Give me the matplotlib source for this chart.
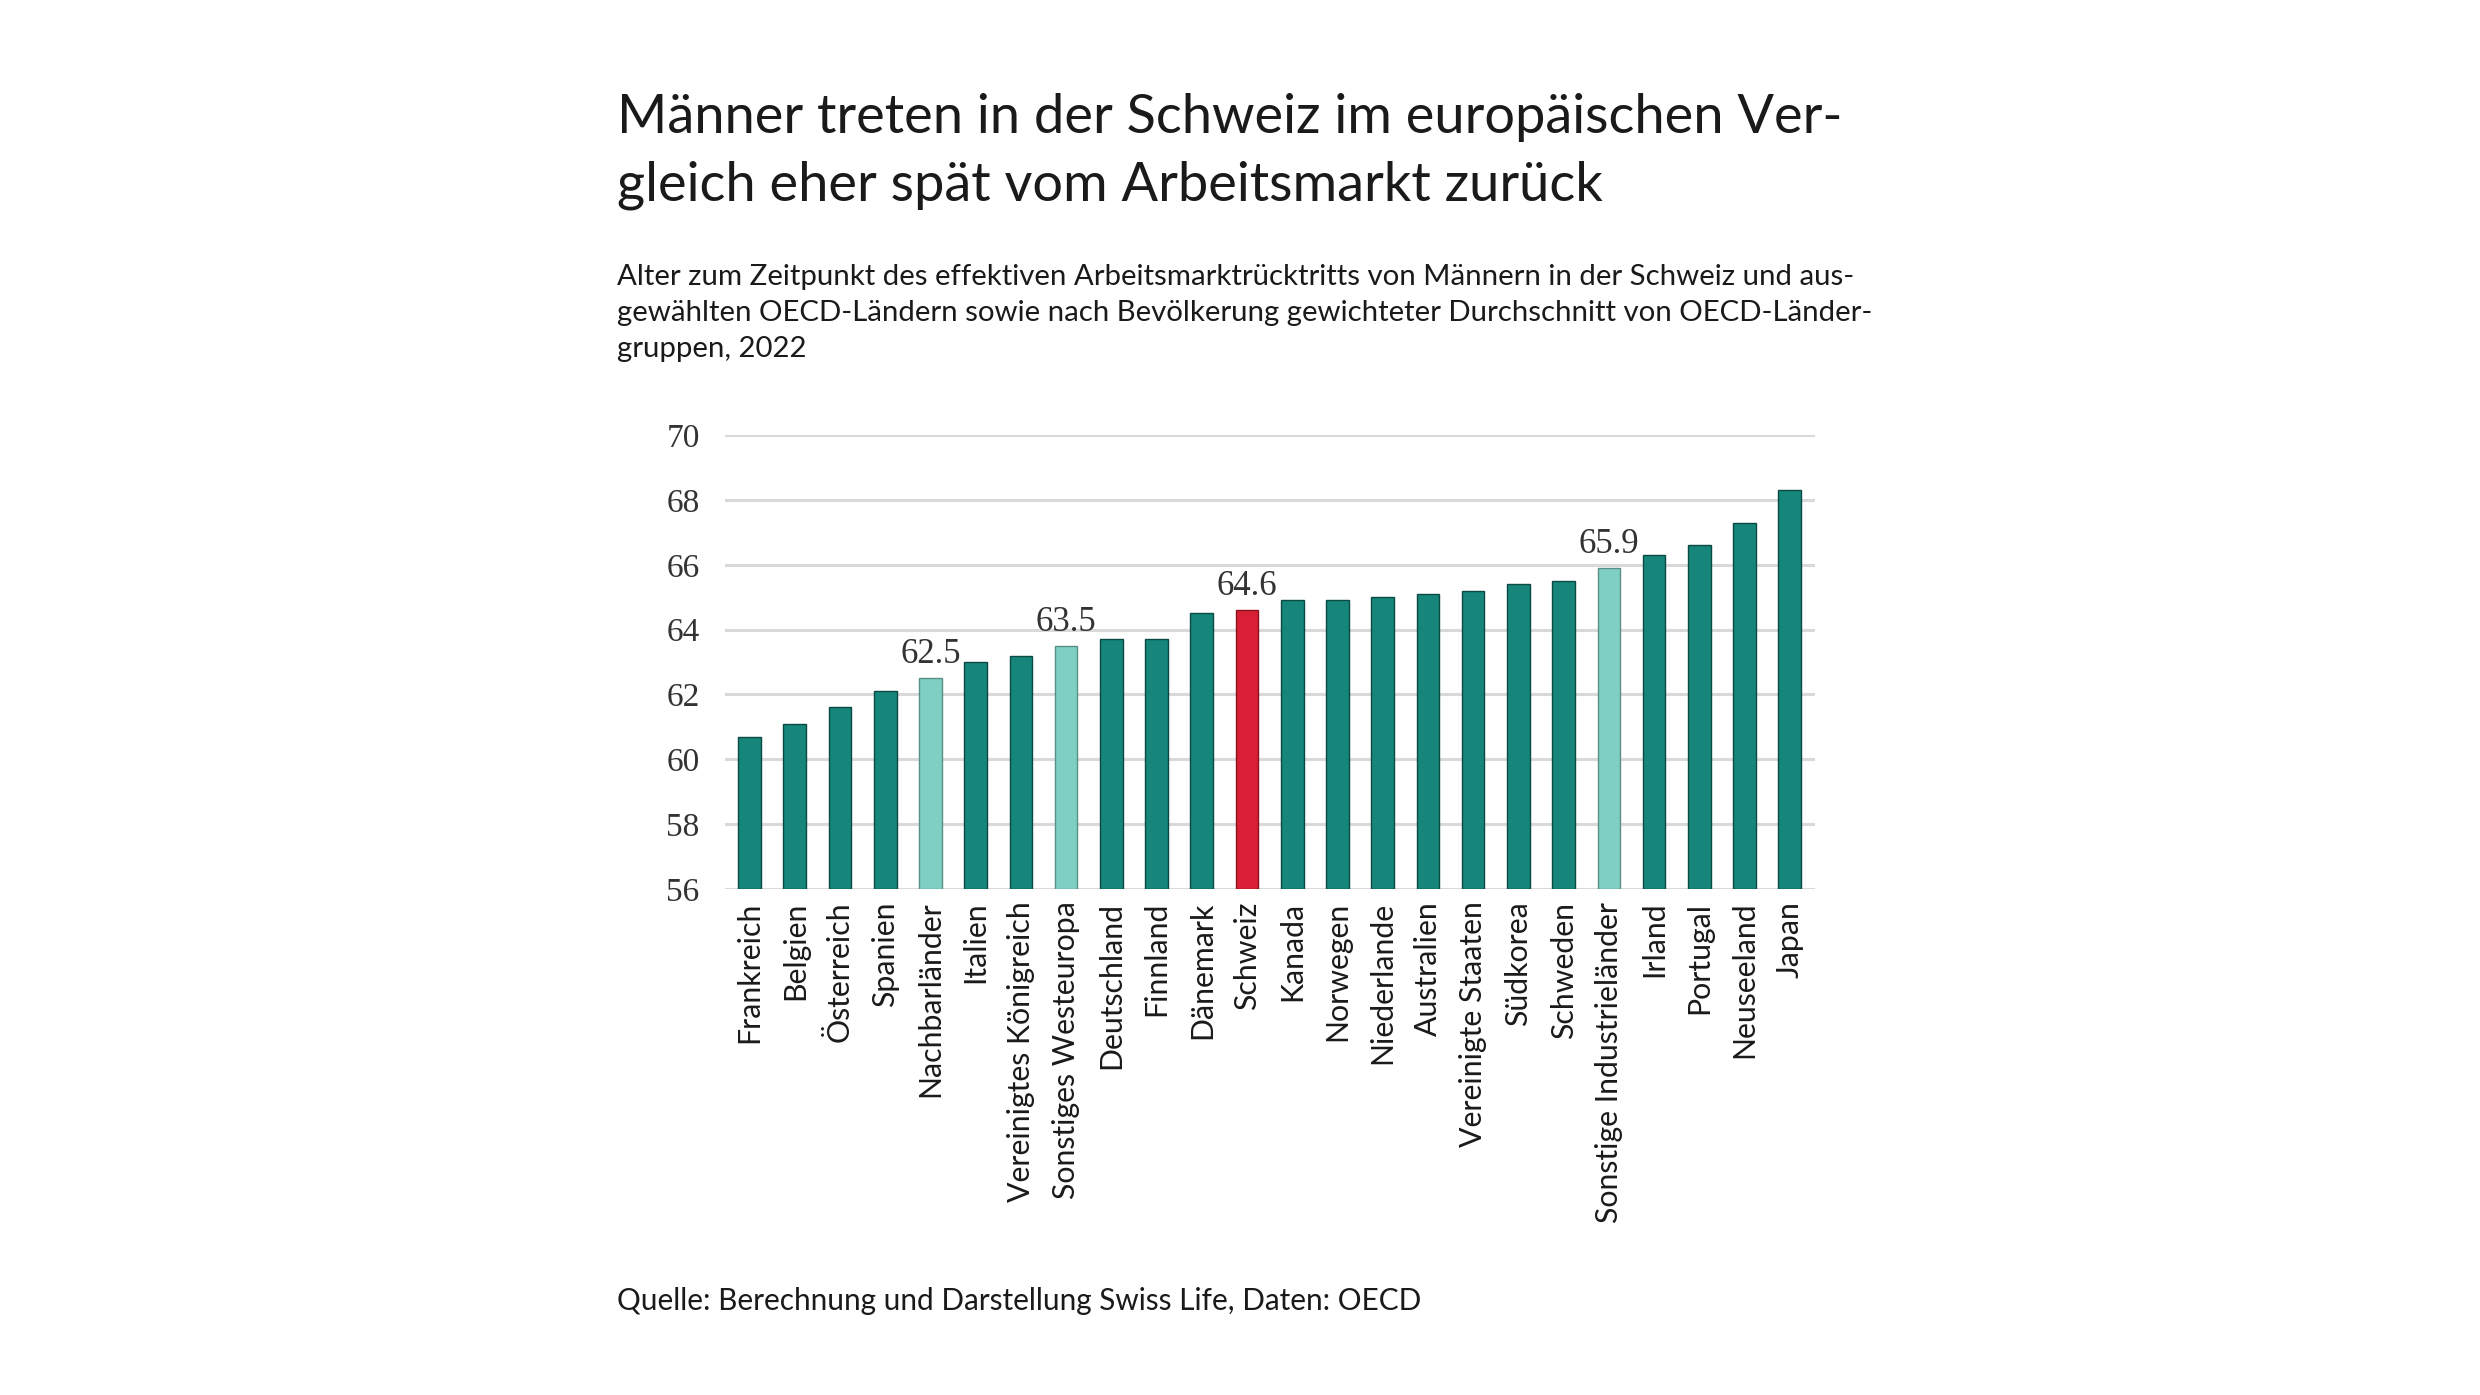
import matplotlib.pyplot as plt

countries = ["Frankreich", "Belgien", "Österreich", "Spanien", "Nachbarländer",
             "Italien", "Vereinigtes Königreich", "Sonstiges Westeuropa",
             "Deutschland", "Finnland", "Dänemark", "Schweiz", "Kanada",
             "Norwegen", "Niederlande", "Australien", "Vereinigte Staaten",
             "Südkorea", "Schweden", "Sonstige Industrieländer", "Irland",
             "Portugal", "Neuseeland", "Japan"]
ages = [60.7, 61.1, 61.6, 62.1, 62.5, 63.0, 63.2, 63.5, 63.7, 63.7, 64.5, 64.6,
        64.9, 64.9, 65.0, 65.1, 65.2, 65.4, 65.5, 65.9, 66.3, 66.6, 67.3, 68.3]
groups = ["Nachbarländer", "Sonstiges Westeuropa", "Sonstige Industrieländer"]
highlight = "Schweiz"

TEAL = "#16867a"
LIGHT = "#80cfc3"
RED = "#d81f36"
TXT = "#1a1a1a"

colors, edges = [], []
for c in countries:
    if c == highlight:
        colors.append(RED); edges.append("#8a1020")
    elif c in groups:
        colors.append(LIGHT); edges.append("#5a8f88")
    else:
        colors.append(TEAL); edges.append("#0b4a43")

fig = plt.figure(figsize=(24.8, 13.95), dpi=100)
ax = fig.add_axes([0.2922, 0.3627, 0.4395, 0.3254])

x = range(len(countries))
ax.bar(x, [a - 56 for a in ages], bottom=56, width=0.5, color=colors,
       edgecolor=edges, linewidth=1.0, zorder=3)

# labels only for Switzerland and the country-group averages
for i, c in enumerate(countries):
    if c in groups or c == highlight:
        ax.text(i, ages[i] + 0.22, f"{ages[i]:.1f}", ha="center", va="bottom",
                fontsize=25, family="Liberation Serif", color="#333333")

ax.set_ylim(56, 70)
ax.set_xlim(-0.55, 23.55)
ax.set_yticks(range(56, 71, 2))
ax.yaxis.grid(True, color="#d9d9d9", linewidth=2.2, zorder=0)
ax.set_axisbelow(True)
for s in ax.spines.values():
    s.set_visible(False)
ax.tick_params(axis="y", length=0, pad=18, labelsize=24, labelcolor="#333333")
for lab in ax.get_yticklabels():
    lab.set_family("Liberation Serif")
ax.set_xticks(list(x))
ax.set_xticklabels(countries, rotation=90, fontsize=21.8, family="Lato", color=TXT)
ax.tick_params(axis="x", length=0, pad=9)

title = ["Männer treten in der Schweiz im europäischen Ver-",
         "gleich eher spät vom Arbeitsmarkt zurück"]
for i, line in enumerate(title):
    fig.text(0.2488, 1 - (117 + 68 * i) / 1395, line, fontsize=39, family="Lato",
             color=TXT, va="center", ha="left")

sub = ["Alter zum Zeitpunkt des effektiven Arbeitsmarktrücktritts von Männern in der Schweiz und aus-",
       "gewählten OECD-Ländern sowie nach Bevölkerung gewichteter Durchschnitt von OECD-Länder-",
       "gruppen, 2022"]
for i, line in enumerate(sub):
    fig.text(0.2488, 1 - (277 + 36 * i) / 1395, line, fontsize=21.2, family="Lato",
             color=TXT, va="center", ha="left")

fig.text(0.2488, 1 - 1301 / 1395, "Quelle: Berechnung und Darstellung Swiss Life, Daten: OECD",
         fontsize=21.4, family="Lato", color=TXT, va="center", ha="left")

fig.savefig("out.png", dpi=100, facecolor="white")
